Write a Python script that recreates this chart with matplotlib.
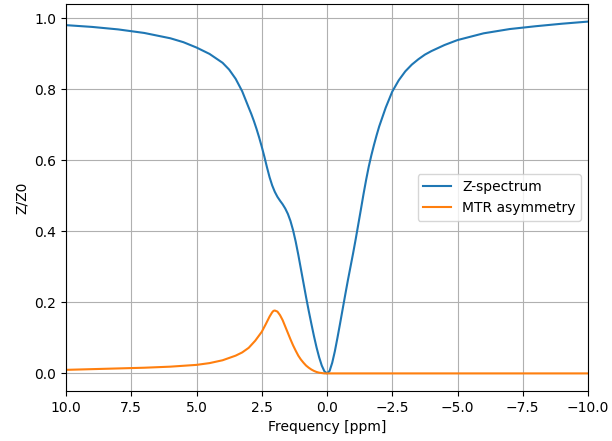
import matplotlib
matplotlib.use("Agg")
import numpy as np
import matplotlib.pyplot as plt

"""
Z-spectrum and MTR asymmetry, values read off the reference plot
"""

# frequency offsets [ppm] and normalised saturation Z/Z0
z_ppm = [10.0, 9.0, 8.0, 7.0, 6.0, 5.5, 5.0, 4.5, 4.0, 3.75, 3.5, 3.25, 3.0,
         2.9, 2.8, 2.7, 2.6, 2.5, 2.4, 2.3, 2.2, 2.1, 2.0, 1.9, 1.8, 1.7,
         1.6, 1.5, 1.4, 1.3, 1.2, 1.1, 1.0, 0.9, 0.8, 0.7, 0.6, 0.5, 0.4,
         0.3, 0.2, 0.1, 0.0, -0.1, -0.2, -0.3, -0.4, -0.5, -0.6, -0.7, -0.8,
         -0.9, -1.0, -1.1, -1.2, -1.3, -1.4, -1.5, -1.6, -1.7, -1.8, -1.9,
         -2.0, -2.25, -2.5, -2.75, -3.0, -3.25, -3.5, -3.75, -4.0, -4.5,
         -5.0, -6.0, -7.0, -8.0, -9.0, -10.0]
z_values = [0.980, 0.975, 0.968, 0.958, 0.943, 0.932, 0.917, 0.899, 0.874,
            0.855, 0.829, 0.794, 0.748, 0.730, 0.710, 0.688, 0.664, 0.638,
            0.610, 0.580, 0.552, 0.529, 0.511, 0.497, 0.486, 0.476, 0.464,
            0.449, 0.429, 0.403, 0.371, 0.334, 0.294, 0.254, 0.214, 0.176,
            0.140, 0.105, 0.073, 0.045, 0.022, 0.006, 0.0, 0.007, 0.030,
            0.062, 0.100, 0.140, 0.181, 0.222, 0.262, 0.300, 0.338, 0.378,
            0.420, 0.462, 0.505, 0.545, 0.582, 0.614, 0.643, 0.670, 0.695,
            0.748, 0.793, 0.825, 0.850, 0.869, 0.884, 0.897, 0.907, 0.924,
            0.938, 0.957, 0.969, 0.977, 0.984, 0.990]

# MTR asymmetry, zero on the negative side
mtr_ppm = [10.0, 9.0, 8.0, 7.0, 6.0, 5.0, 4.5, 4.0, 3.5, 3.25, 3.0, 2.75, 2.5,
           2.35, 2.2, 2.1, 2.05, 2.0, 1.9, 1.8, 1.7, 1.6, 1.5, 1.4, 1.3, 1.2,
           1.1, 1.0, 0.9, 0.8, 0.7, 0.6, 0.5, 0.4, 0.3, 0.2, 0.1, 0.0, -10.0]
mtr_values = [0.010, 0.012, 0.014, 0.016, 0.019, 0.024, 0.029, 0.037, 0.050,
              0.059, 0.072, 0.092, 0.117, 0.138, 0.160, 0.172, 0.176, 0.177,
              0.174, 0.164, 0.150, 0.132, 0.114, 0.096, 0.079, 0.064, 0.050,
              0.039, 0.030, 0.022, 0.016, 0.011, 0.007, 0.004, 0.002, 0.001,
              0.0, 0.0, 0.0]

fig = plt.figure(figsize=(6.12, 4.41), dpi=100)
ax = fig.add_axes([66 / 612, 1 - 391 / 441, 522 / 612, 387 / 441])

ax.plot(z_ppm, z_values, label="Z-spectrum")
ax.plot(mtr_ppm, mtr_values, label="MTR asymmetry")

ax.set_xlim(10, -10)
ax.set_xlabel("Frequency [ppm]")
ax.set_ylabel("Z/Z0")
ax.grid(True)
ax.legend(loc="center right")

fig.savefig("out.png", dpi=100)
